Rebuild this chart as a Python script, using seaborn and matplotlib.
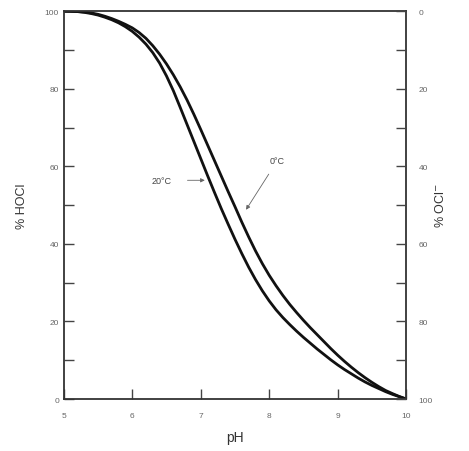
import pandas as pd
import seaborn as sns
import matplotlib.pyplot as plt

# --- DATA ---
ph = [5.0, 5.1, 5.2, 5.3, 5.4, 5.5, 5.6, 5.7, 5.8, 5.9,
      6.0, 6.1, 6.2, 6.3, 6.4, 6.5, 6.6, 6.7, 6.8, 6.9,
      7.0, 7.1, 7.2, 7.3, 7.4, 7.5, 7.6, 7.7, 7.8, 7.9,
      8.0, 8.1, 8.2, 8.3, 8.4, 8.5, 8.6, 8.7, 8.8, 8.9,
      9.0, 9.1, 9.2, 9.3, 9.4, 9.5, 9.6, 9.7, 9.8, 9.9, 10.0]

# % HOCl at 20 C (left curve)
hocl_20c = [100, 99.97, 99.9, 99.7, 99.4, 99.0, 98.45, 97.8, 97.0, 96.0,
            94.8, 93.3, 91.5, 89.3, 86.6, 83.3, 79.5, 75.2, 70.8, 66.4,
            62.0, 57.6, 53.3, 49.1, 45.1, 41.2, 37.5, 34.0, 30.8, 27.9,
            25.3, 23.0, 21.0, 19.2, 17.5, 15.9, 14.4, 12.9, 11.5, 10.1,
            8.8, 7.6, 6.5, 5.4, 4.4, 3.5, 2.7, 1.9, 1.2, 0.6, 0.0]

# % HOCl at 0 C (right curve)
hocl_0c = [100, 99.98, 99.92, 99.8, 99.55, 99.2, 98.7, 98.1, 97.4, 96.6,
           95.7, 94.5, 93.0, 91.1, 88.9, 86.4, 83.6, 80.5, 77.1, 73.4,
           69.5, 65.5, 61.5, 57.5, 53.5, 49.6, 45.6, 41.8, 38.2, 34.9,
           31.9, 29.2, 26.7, 24.4, 22.3, 20.3, 18.4, 16.6, 14.8, 13.0,
           11.3, 9.7, 8.2, 6.8, 5.5, 4.3, 3.2, 2.2, 1.4, 0.65, 0.0]

left_ticks = [0, 20, 40, 60, 80, 100]
right_labels = ["100", "80", "60", "40", "20", "0"]
x_ticks = [5, 6, 7, 8, 9, 10]

label_20c = "20°C"
label_0c = "0°C"

df = pd.DataFrame({
    "pH": ph * 2,
    "HOCl": hocl_20c + hocl_0c,
    "temp": [label_20c] * len(ph) + [label_0c] * len(ph),
})

sns.set_style("ticks")
plt.rcParams["font.family"] = ["Liberation Sans", "DejaVu Sans"]

fig = plt.figure(figsize=(4.69, 4.52), dpi=100)
ax = fig.add_axes([0.136, 0.115, 0.730, 0.858])

sns.lineplot(data=df, x="pH", y="HOCl", hue="temp",
             palette={label_20c: "#111111", label_0c: "#111111"},
             linewidth=2.0, legend=False, ax=ax)

ax.set_xlim(5, 10)
ax.set_ylim(0, 100)
ax.set_xticks(x_ticks)
ax.set_yticks(left_ticks)
ax.set_yticks(range(10, 100, 20), minor=True)
ax.tick_params(axis="both", which="both", direction="in", labelsize=6,
               colors="#444444", labelcolor="#666666")
ax.tick_params(axis="both", which="major", length=7, width=1.0)
ax.tick_params(axis="y", which="minor", length=7, width=1.0)
ax.tick_params(axis="x", pad=9)
ax.set_xlabel("pH", fontsize=10, color="#333333", labelpad=8)
ax.set_ylabel("% HOCl", fontsize=9, color="#333333", labelpad=12)
for sp in ax.spines.values():
    sp.set_linewidth(1.3)
    sp.set_color("#333333")

# right axis: % OCl- (complement)
ax2 = ax.twinx()
ax2.set_ylim(0, 100)
ax2.set_yticks(left_ticks)
ax2.set_yticklabels(right_labels)
ax2.set_yticks(range(10, 100, 20), minor=True)
ax2.tick_params(axis="y", which="both", direction="in", labelsize=6,
                length=7, width=1.0, colors="#444444", labelcolor="#666666",
                pad=9)
ax2.set_ylabel("% OCl$^{-}$", fontsize=9, color="#333333", rotation=90,
               labelpad=1)
for sp in ax2.spines.values():
    sp.set_visible(False)

# curve labels with arrows
ax.annotate(label_20c, xy=(7.10, 56.4), xytext=(6.43, 56.4),
            fontsize=6.5, color="#444444", ha="center", va="center",
            arrowprops=dict(arrowstyle="-|>", color="#666666", lw=0.6,
                            mutation_scale=6, shrinkA=9))
ax.annotate(label_0c, xy=(7.64, 48.2), xytext=(8.12, 61.5),
            fontsize=6.5, color="#444444", ha="center", va="center",
            arrowprops=dict(arrowstyle="-|>", color="#666666", lw=0.6,
                            mutation_scale=6, shrinkA=5))

fig.savefig("out.png", dpi=100)
